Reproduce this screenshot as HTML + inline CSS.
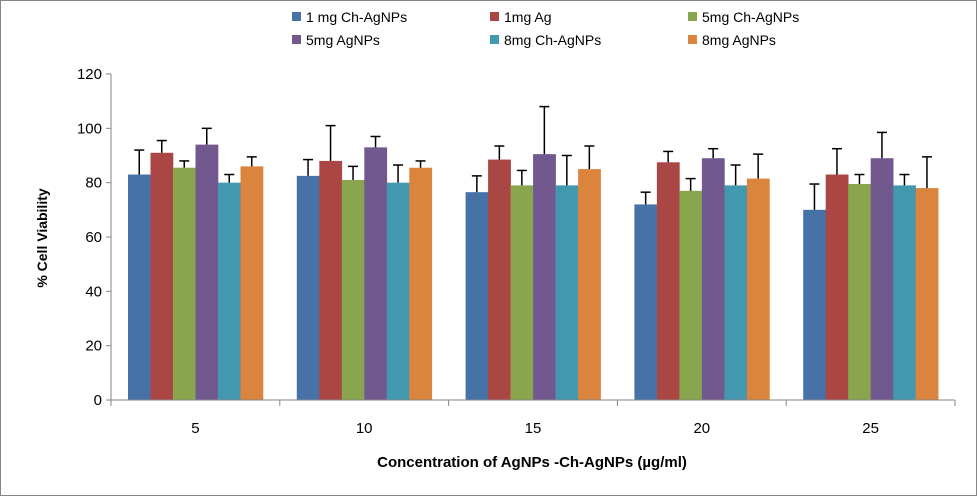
<!DOCTYPE html>
<html><head><meta charset="utf-8"><style>
html,body{margin:0;padding:0;background:#fff}
svg{display:block;font-family:"Liberation Sans Narrow","Liberation Sans",sans-serif}
</style></head><body>
<svg id="c" width="978" height="497" xmlns="http://www.w3.org/2000/svg">
<rect x="0.5" y="0.5" width="976" height="495" fill="#fff" stroke="#868686" stroke-width="1"/>
<g id="g"></g>
<g font-size="14" fill="#000">
<rect x="292" y="12" width="9" height="9" fill="#4672A8"/><text x="306" y="22">1 mg Ch-AgNPs</text>
<rect x="490" y="12" width="9" height="9" fill="#AA4644"/><text x="504" y="22">1mg Ag</text>
<rect x="688" y="12" width="9" height="9" fill="#89A54E"/><text x="702" y="22">5mg Ch-AgNPs</text>
<rect x="292" y="35" width="9" height="9" fill="#71588F"/><text x="306" y="45">5mg AgNPs</text>
<rect x="490" y="35" width="9" height="9" fill="#4198AF"/><text x="504" y="45">8mg Ch-AgNPs</text>
<rect x="688" y="35" width="9" height="9" fill="#DB843D"/><text x="702" y="45">8mg AgNPs</text>
</g>
<text x="47" y="238" font-size="14" font-weight="bold" transform="rotate(-90 47 238)" text-anchor="middle">% Cell Viability</text>
<text x="532" y="467" font-size="15" font-weight="bold" text-anchor="middle">Concentration of AgNPs -Ch-AgNPs (µg/ml)</text>
</svg>
<script>
var g=document.getElementById('g'),s='';
var col=['#4672A8','#AA4644','#89A54E','#71588F','#4198AF','#DB843D'];
var v=[[83,91,85.5,94,80,86],[82.5,88,81,93,80,85.5],[76.5,88.5,79,90.5,79,85],[72,87.5,77,89,79,81.5],[70,83,79.5,89,79,78]];
var t=[[92,95.5,88,100,83,89.5],[88.5,101,86,97,86.5,88],[82.5,93.5,84.5,108,90,93.5],[76.5,91.5,81.5,92.5,86.5,90.5],[79.5,92.5,83,98.5,83,89.5]];
function Y(a){return 400-a*326/120;}
var x0=111,cw=168.8,bw=22.5;
for(var i=0;i<5;i++){for(var j=0;j<6;j++){var x=x0+i*cw+17+j*bw;
s+='<rect x="'+x+'" y="'+Y(v[i][j])+'" width="'+(bw+0.3)+'" height="'+(400-Y(v[i][j]))+'" fill="'+col[j]+'"/>';
var cx=x+bw/2;s+='<line x1="'+cx+'" x2="'+cx+'" y1="'+Y(v[i][j])+'" y2="'+Y(t[i][j])+'" stroke="#000" stroke-width="1.5"/>';
s+='<line x1="'+(cx-5)+'" x2="'+(cx+5)+'" y1="'+Y(t[i][j])+'" y2="'+Y(t[i][j])+'" stroke="#000" stroke-width="1.5"/>';}}
s+='<line x1="111" x2="111" y1="74" y2="400" stroke="#868686"/>';
for(var k=0;k<=6;k++){var y=Y(k*20);s+='<line x1="106" x2="111" y1="'+y+'" y2="'+y+'" stroke="#868686"/><text x="102" y="'+(y+5)+'" font-size="15" text-anchor="end">'+(k*20)+'</text>';}
s+='<line x1="111" x2="955" y1="400" y2="400" stroke="#868686"/>';
for(var k=0;k<=5;k++){var x=x0+k*cw;s+='<line x1="'+x+'" x2="'+x+'" y1="400" y2="406" stroke="#868686"/>';}
var lb=['5','10','15','20','25'];for(var i=0;i<5;i++)s+='<text x="'+(x0+i*cw+cw/2)+'" y="433" font-size="15" text-anchor="middle">'+lb[i]+'</text>';
g.innerHTML=s;
</script>
</body></html>
